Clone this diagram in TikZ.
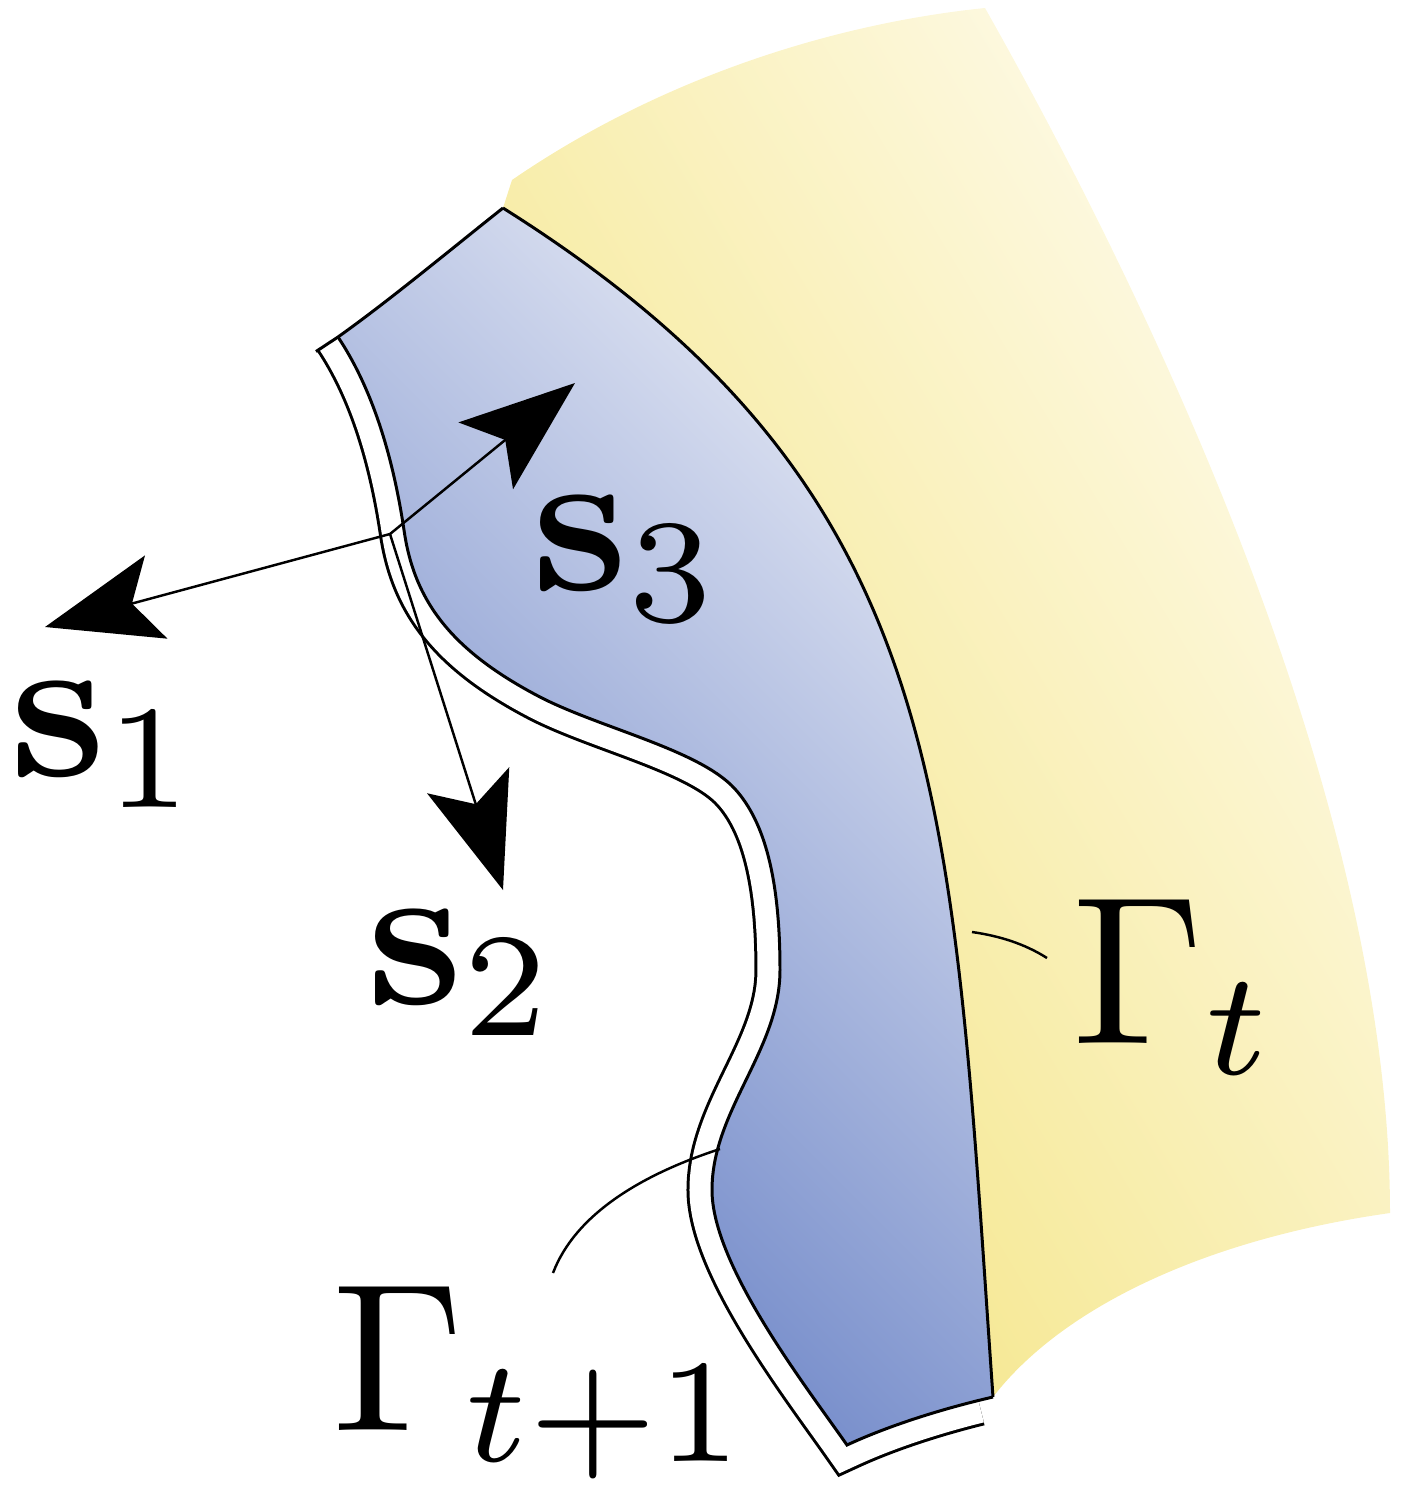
\documentclass[tikz,border=0pt]{standalone}
\usetikzlibrary{arrows.meta}
\definecolor{bluelight}{RGB}{228,232,244}
\definecolor{bluedark}{RGB}{100,126,196}
\definecolor{yellowlight}{RGB}{254,251,236}
\definecolor{yellowdark}{RGB}{244,228,128}
\font\Sbf=cmbx10 at 60pt
\font\Grm=cmr10 at 60pt
\font\Srm=cmr7 at 42pt
\font\Smi=cmmi7 at 42pt
\newcommand{\subx}[1]{\lower9pt\hbox{#1}}
\begin{document}
\begin{tikzpicture}[x=0.01cm, y=-0.01cm,
  bound/.style={line width=0.85pt, line join=miter},
  vec/.style={line width=0.7pt, -{Stealth[length=1.15cm, width=0.86cm, inset=0.25cm]}},
  leader/.style={line width=0.7pt},
  lbl/.style={inner sep=0pt, anchor=base west}]
\useasboundingbox (0,0) rectangle (1408,1487);

\coordinate (tl) at (316,351.5);
\coordinate (tc) at (338,337);
\coordinate (tr) at (503,208);
\coordinate (bl) at (847,1445);
\coordinate (br) at (993,1397);
\coordinate (be) at (978.4,1400.5);

% yellow region (outside Gamma_t)
\shade[top color=yellowlight, bottom color=yellowdark, shading angle=-59]
 (512,180) .. controls (650,85) and (820,25) .. (985,8)
 .. controls (1150,300) and (1390,800) .. (1390,1213)
 .. controls (1200,1240) and (1060,1310) .. (br)
 .. controls (951,797) and (953,491) .. (tr) -- cycle;

% double outline of Gamma_{t+1}: outer line obtained from a wide stroke
\begin{scope}
\clip (0,577) -- (tc) .. controls (390,300) and (450,250) .. (tr)
      -- (1408,208) -- (1408,1487) -- (0,1487) -- cycle;
\path[draw=black, line width=0.51cm, line join=miter, line cap=butt,
      postaction={draw=white, line width=0.45cm, line join=miter, line cap=butt}]
 (321,312) -- (tc)
 .. controls (370,385) and (392,450) .. (404,530)
 .. controls (414,600) and (450,650) .. (540,697)
 .. controls (600,728) and (700,750) .. (735,789)
 .. controls (765,822) and (780,880) .. (780,970)
 .. controls (780,1050) and (712,1110) .. (712,1190)
 .. controls (712,1265) and (805,1385) .. (bl)
 .. controls (885.7,1427) and (934.1,1411.4) .. (be);
\end{scope}

% blue band between Gamma_{t+1} and Gamma_t
\shade[top color=bluelight, bottom color=bluedark, shading angle=-45]
 (tc)
 .. controls (370,385) and (392,450) .. (404,530)
 .. controls (414,600) and (450,650) .. (540,697)
 .. controls (600,728) and (700,750) .. (735,789)
 .. controls (765,822) and (780,880) .. (780,970)
 .. controls (780,1050) and (712,1110) .. (712,1190)
 .. controls (712,1265) and (805,1385) .. (bl)
 .. controls (890,1425) and (945,1408) .. (br)
 .. controls (951,797) and (953,491) .. (tr)
 .. controls (450,250) and (390,300) .. (tc) -- cycle;

% boundary lines
\draw[bound] (tc)
 .. controls (370,385) and (392,450) .. (404,530)
 .. controls (414,600) and (450,650) .. (540,697)
 .. controls (600,728) and (700,750) .. (735,789)
 .. controls (765,822) and (780,880) .. (780,970)
 .. controls (780,1050) and (712,1110) .. (712,1190)
 .. controls (712,1265) and (805,1385) .. (bl)
 .. controls (890,1425) and (945,1408) .. (br);
\draw[bound] (tl) -- (tc) .. controls (390,300) and (450,250) .. (tr);
\draw[bound] (tr) .. controls (953,491) and (951,797) .. (br);

% leaders
\coordinate (la) at (972,932);
\coordinate (lb) at (1047,958);
\draw[leader] (la) .. controls (1000,936) and (1025,944) .. (lb);
\coordinate (lc) at (720,1149);
\coordinate (ld) at (553,1273);
\draw[leader] (lc) .. controls (640,1175) and (575,1215) .. (ld);

% vectors
\coordinate (o) at (390,534);
\coordinate (t1) at (45,627);
\coordinate (t2) at (503,890);
\coordinate (t3) at (575,383);
\draw[vec] (o) -- (t1);
\draw[vec] (o) -- (t2);
\draw[vec] (o) -- (t3);

% labels
\node[lbl] (s1) at (10,776) {{\Sbf s}\subx{\Srm 1}};
\node[lbl] (s2) at (367,1004) {{\Sbf s}\subx{\Srm 2}};
\node[lbl] (s3) at (532,590) {{\Sbf s}\subx{\Srm 3}};
\node[lbl] (gt) at (1072,1043) {{\Grm\char0}\subx{\Smi t}};
\node[lbl] (gt1) at (332,1430) {{\Grm\char0}\subx{\Smi t\Srm +1}};
\end{tikzpicture}
\end{document}
